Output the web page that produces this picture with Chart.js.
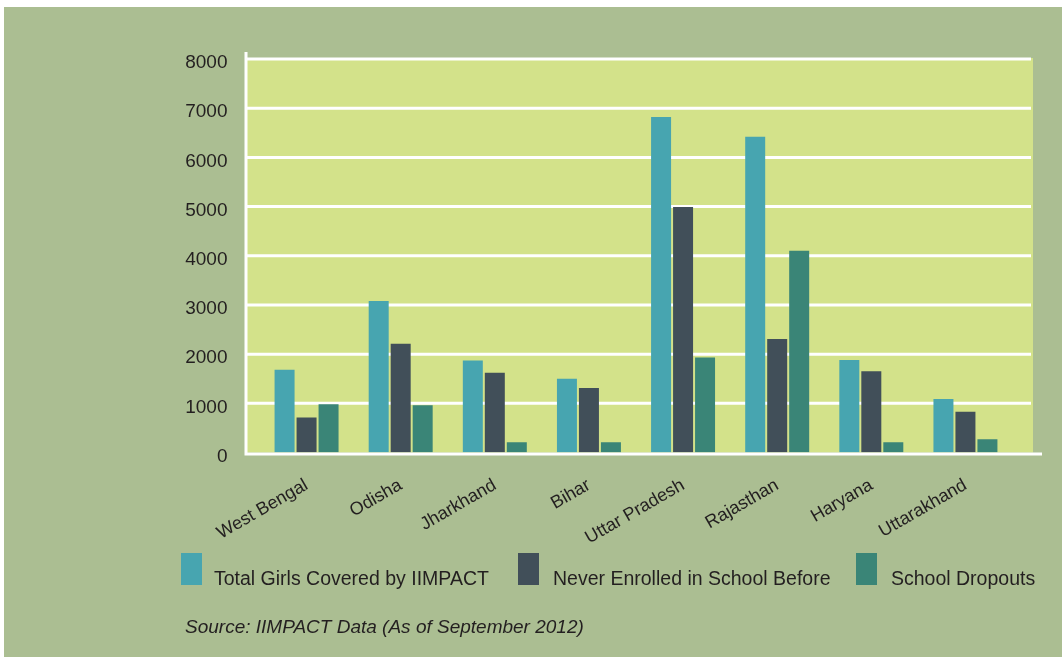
<!DOCTYPE html>
<html>
<head>
<meta charset="utf-8">
<script src="https://cdn.jsdelivr.net/npm/chart.js@4.4.0/dist/chart.umd.min.js"></script>
<style>
  html, body { margin: 0; padding: 0; background: #ffffff; }
  #wrap { position: relative; width: 1062px; height: 658px; font-family: "Liberation Sans", Arial, sans-serif; color: #231f20; }
  #chart { position: absolute; left: 0; top: 0; }
  .box { position: absolute; width: 21px; height: 32px; top: 553px; }
  .lbl { position: absolute; top: 567px; font-size: 19.5px; line-height: 22px; white-space: nowrap; }
  #source { position: absolute; left: 185px; top: 616px; font-size: 19px; line-height: 22px; font-style: italic; white-space: nowrap; }
</style>
</head>
<body>
<div id="wrap">
  <canvas id="chart" width="1062" height="658"></canvas>
  <div id="legend"></div>
  <div id="source">Source: IIMPACT Data (As of September 2012)</div>
</div>
<script>
// Estados
const states = ["West Bengal", "Odisha", "Jharkhand", "Bihar", "Uttar Pradesh", "Rajasthan", "Haryana", "Uttarakhand"];

// Series
const totalGirls = [1680, 3080, 1870, 1500, 6820, 6420, 1880, 1090];
const neverEnrolled = [710, 2210, 1620, 1310, 4990, 2310, 1650, 830];
const dropouts = [980, 960, 210, 210, 1930, 4100, 210, 270];

const seriesNames = ["Total Girls Covered by IIMPACT", "Never Enrolled in School Before", "School Dropouts"];
const seriesColors = ["#47a5b0", "#414f59", "#3a8577"];

// y axis ticks
const yTicks = [0, 1000, 2000, 3000, 4000, 5000, 6000, 7000, 8000];

// fondo, area del grafico y lineas blancas
const backdrop = {
    id: "backdrop",
    beforeDraw(chart) {
        const ctx = chart.ctx;
        const y = chart.scales.y;
        const bottom = chart.chartArea.bottom;
        const top = y.getPixelForValue(8000);
        ctx.save();
        ctx.fillStyle = "#abbe92";
        ctx.fillRect(4, 7, 1058, 650);
        ctx.fillStyle = "#d3e28a";
        ctx.fillRect(246, top - 1, 787, bottom - top + 1);
        ctx.strokeStyle = "#ffffff";
        ctx.lineWidth = 3;
        yTicks.slice(1).forEach((v) => {
            const py = y.getPixelForValue(v);
            ctx.beginPath();
            ctx.moveTo(246, py);
            ctx.lineTo(1031, py);
            ctx.stroke();
        });
        ctx.restore();
    },
    afterDatasetsDraw(chart) {
        const ctx = chart.ctx;
        const bottom = chart.chartArea.bottom;
        ctx.save();
        ctx.strokeStyle = "#ffffff";
        ctx.lineWidth = 3;
        ctx.beginPath();
        ctx.moveTo(246, 52);
        ctx.lineTo(246, bottom + 1.5);
        ctx.moveTo(244.5, bottom + 1.5);
        ctx.lineTo(1042, bottom + 1.5);
        ctx.stroke();
        ctx.restore();
    },
};

new Chart(document.getElementById("chart").getContext("2d"), {
    type: "bar",
    data: {
        labels: states,
        datasets: [
            { label: seriesNames[0], data: totalGirls, backgroundColor: seriesColors[0] },
            { label: seriesNames[1], data: neverEnrolled, backgroundColor: seriesColors[1] },
            { label: seriesNames[2], data: dropouts, backgroundColor: seriesColors[2] },
        ],
    },
    options: {
        responsive: false,
        animation: false,
        devicePixelRatio: 1,
        categoryPercentage: 0.701,
        barPercentage: 0.909,
        layout: { padding: { left: 0, right: 49.5, top: 59, bottom: 0 } },
        plugins: { legend: { display: false }, tooltip: { enabled: false } },
        scales: {
            x: {
                grid: { display: false },
                border: { display: false },
                ticks: {
                    color: "#231f20",
                    font: { family: "Liberation Sans", size: 18 },
                    minRotation: 30,
                    maxRotation: 30,
                    padding: 14,
                    autoSkip: false,
                },
                afterFit(scale) { scale.height = 205.5; },
            },
            y: {
                min: 0,
                max: 8000,
                grid: { display: false },
                border: { display: false },
                ticks: {
                    stepSize: 1000,
                    color: "#231f20",
                    font: { family: "Liberation Sans", size: 19 },
                    padding: 24,
                    labelOffset: 4,
                    callback: (value) => String(value),
                },
                afterFit(scale) { scale.width = 259.5; },
            },
        },
    },
    plugins: [backdrop],
});

// leyenda
const legendPos = [[181, 214], [518, 553], [856, 891]];
const legend = document.getElementById("legend");
seriesNames.forEach((name, i) => {
    const box = document.createElement("div");
    box.className = "box";
    box.style.left = legendPos[i][0] + "px";
    box.style.background = seriesColors[i];
    legend.appendChild(box);
    const lbl = document.createElement("div");
    lbl.className = "lbl";
    lbl.style.left = legendPos[i][1] + "px";
    lbl.textContent = name;
    legend.appendChild(lbl);
});
</script>
</body>
</html>
